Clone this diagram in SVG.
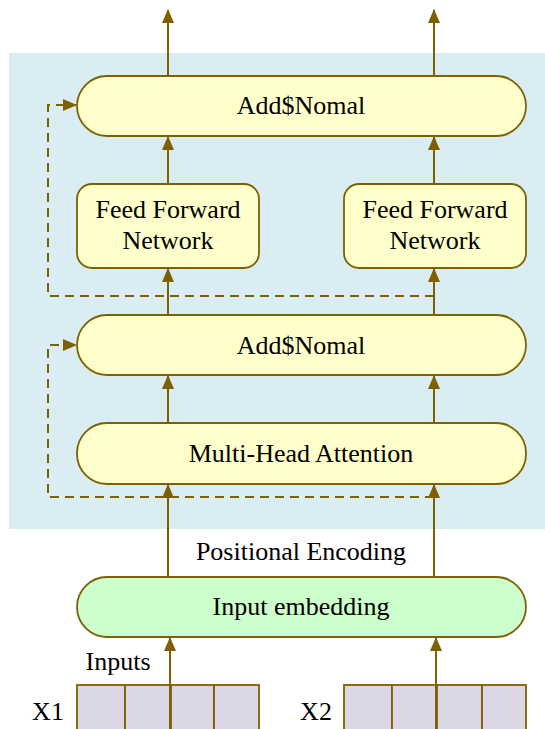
<svg xmlns="http://www.w3.org/2000/svg" width="545" height="729" viewBox="0 0 545 729">
<style>
.n{stroke:#7f6000;stroke-width:1.8}
.y{fill:#ffffcc}
.g{fill:#ccffcc}
.c{fill:#dcd7e4;stroke:#7f6000;stroke-width:1.8}
.e{stroke:#7f6000;stroke-width:2;fill:none}
.d{stroke:#7f6000;stroke-width:2;fill:none;stroke-dasharray:9,6}
text{font-family:"Liberation Serif","Times New Roman",serif;font-size:26px;fill:#000;text-anchor:middle}
</style>
<defs>
<marker id="a" markerWidth="14" markerHeight="12" refX="13" refY="6" orient="auto" markerUnits="userSpaceOnUse">
<path d="M0,0 L14,6 L0,12 Z" fill="#7f6000"/>
</marker>
</defs>
<rect x="9" y="53" width="536" height="476" fill="#daedf3"/>
<g id="connectors">
<line class="e" x1="168" y1="76" x2="168" y2="10" marker-end="url(#a)"/>
<line class="e" x1="434" y1="76" x2="434" y2="10" marker-end="url(#a)"/>
<line class="e" x1="168" y1="184" x2="168" y2="137" marker-end="url(#a)"/>
<line class="e" x1="434" y1="184" x2="434" y2="137" marker-end="url(#a)"/>
<line class="e" x1="168" y1="315" x2="168" y2="269" marker-end="url(#a)"/>
<line class="e" x1="434" y1="315" x2="434" y2="269" marker-end="url(#a)"/>
<line class="e" x1="168" y1="423" x2="168" y2="376" marker-end="url(#a)"/>
<line class="e" x1="434" y1="423" x2="434" y2="376" marker-end="url(#a)"/>
<line class="e" x1="168" y1="577" x2="168" y2="485" marker-end="url(#a)"/>
<line class="e" x1="434" y1="577" x2="434" y2="485" marker-end="url(#a)"/>
<line class="e" x1="170" y1="729" x2="170" y2="638" marker-end="url(#a)"/>
<line class="e" x1="436" y1="729" x2="436" y2="638" marker-end="url(#a)"/>
<path class="d" d="M434,296 H48 V105 H76" marker-end="url(#a)"/>
<path class="d" d="M434,497 H48 V345 H76" marker-end="url(#a)"/>
</g>
<g id="addnorm2"><rect class="n y" x="77" y="76" width="449" height="60" rx="30"/><text x="301" y="114">Add$Nomal</text></g>
<g id="ff1"><rect class="n y" x="77" y="184" width="182" height="84" rx="15"/><text x="168" y="218">Feed Forward</text><text x="168" y="249">Network</text></g>
<g id="ff2"><rect class="n y" x="344" y="184" width="182" height="84" rx="15"/><text x="435" y="218">Feed Forward</text><text x="435" y="249">Network</text></g>
<g id="addnorm1"><rect class="n y" x="77" y="315" width="449" height="60" rx="30"/><text x="301" y="354">Add$Nomal</text></g>
<g id="mha"><rect class="n y" x="77" y="423" width="449" height="61" rx="30"/><text x="301" y="462">Multi-Head Attention</text></g>
<g id="pe"><text x="301" y="560">Positional Encoding</text></g>
<g id="embed"><rect class="n g" x="77" y="577" width="449" height="60" rx="30"/><text x="301" y="615">Input embedding</text></g>
<g id="inputs"><text x="118" y="670">Inputs</text></g>
<g id="x1">
<text x="48" y="720">X1</text>
<rect class="c" x="77" y="685" width="48" height="50"/>
<rect class="c" x="125" y="685" width="46" height="50"/>
<rect class="c" x="171" y="685" width="43" height="50"/>
<rect class="c" x="214" y="685" width="45" height="50"/>
</g>
<g id="x2">
<text x="316" y="720">X2</text>
<rect class="c" x="344" y="685" width="48" height="50"/>
<rect class="c" x="392" y="685" width="45" height="50"/>
<rect class="c" x="437" y="685" width="45" height="50"/>
<rect class="c" x="482" y="685" width="44" height="50"/>
</g>
<line class="e" x1="170" y1="685" x2="170" y2="729"/>
<line class="e" x1="436" y1="685" x2="436" y2="729"/>
</svg>
